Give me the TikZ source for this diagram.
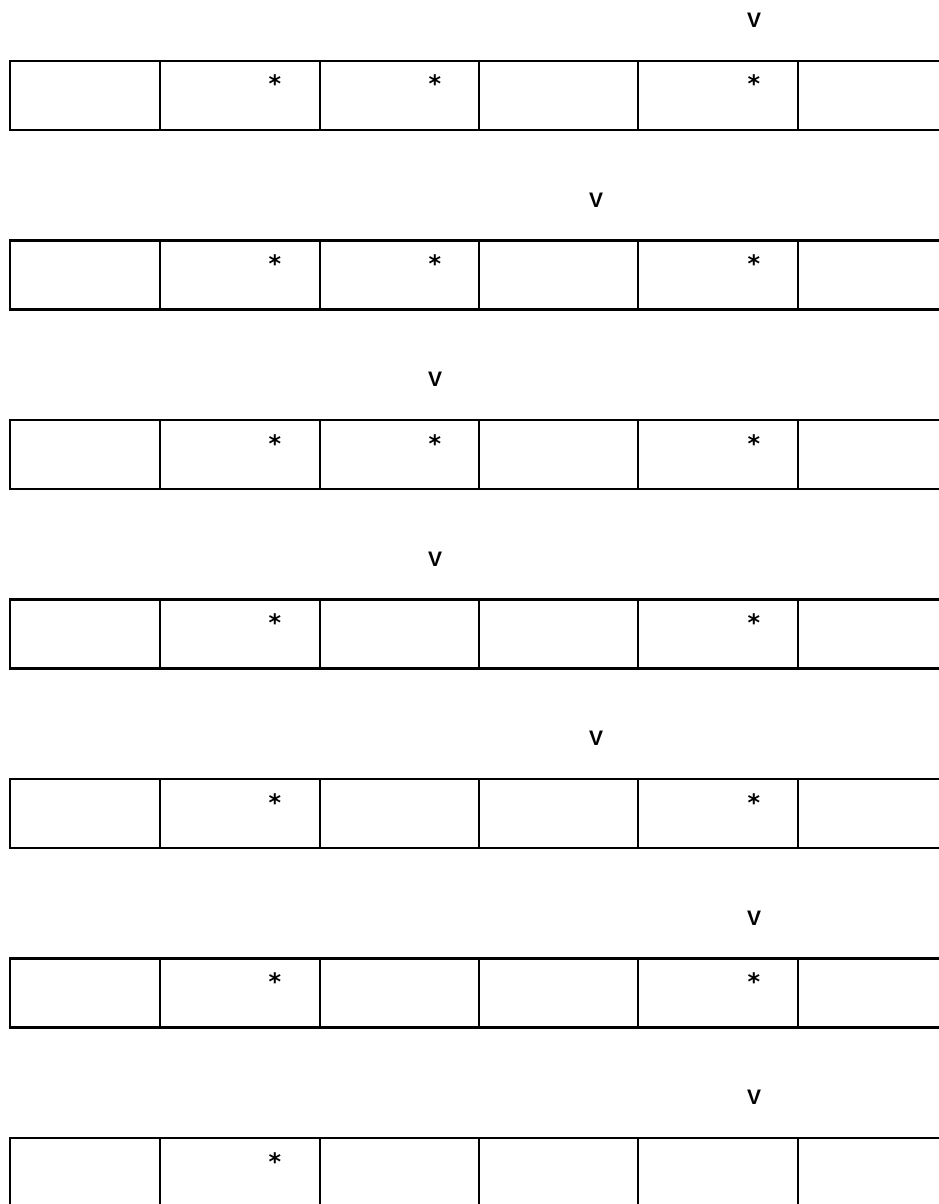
\documentclass[tikz,border=0pt]{standalone}
\usepackage{fontspec}
\setmainfont{DejaVu Sans}
\newfontfamily\vfont{Liberation Sans}
\begin{document}
\begin{tikzpicture}[x=1pt,y=-1pt,
  cellbox/.style={draw, line width=2.6pt, minimum height=69pt, anchor=north west, inner sep=0pt, outer sep=0pt},
  starlbl/.style={anchor=base, inner sep=0pt, font=\bfseries\fontsize{24}{24}\selectfont},
  vlbl/.style={anchor=base, inner sep=0pt, font=\vfont\bfseries\fontsize{21}{21}\selectfont}]
\useasboundingbox (0,0) rectangle (939,1204);
\clip (0,0) rectangle (939,1204);
% rows: index / V x position / list of star x positions
\foreach \r/\vx/\stars in {0/754/{275,435,754},1/596/{275,435,754},2/435/{275,435,754},3/435/{275,754},4/596/{275,754},5/754/{275,754},6/754/{275}}{
  \pgfmathsetmacro{\top}{61+179.5*\r}
  \node[cellbox, minimum width=150pt] (c\r-1) at (10,\top) {};
  \node[cellbox, minimum width=160pt] (c\r-2) at (160,\top) {};
  \node[cellbox, minimum width=159pt] (c\r-3) at (320,\top) {};
  \node[cellbox, minimum width=159pt] (c\r-4) at (479,\top) {};
  \node[cellbox, minimum width=160pt] (c\r-5) at (638,\top) {};
  \node[cellbox, minimum width=160pt] (c\r-6) at (798,\top) {};
  \node[vlbl] (v\r) at (\vx,\top-33.5) {V};
  \foreach \sx [count=\k] in \stars {
    \node[starlbl] (s\r-\k) at (\sx,\top+32) {*};
  }
}
\end{tikzpicture}
\end{document}
